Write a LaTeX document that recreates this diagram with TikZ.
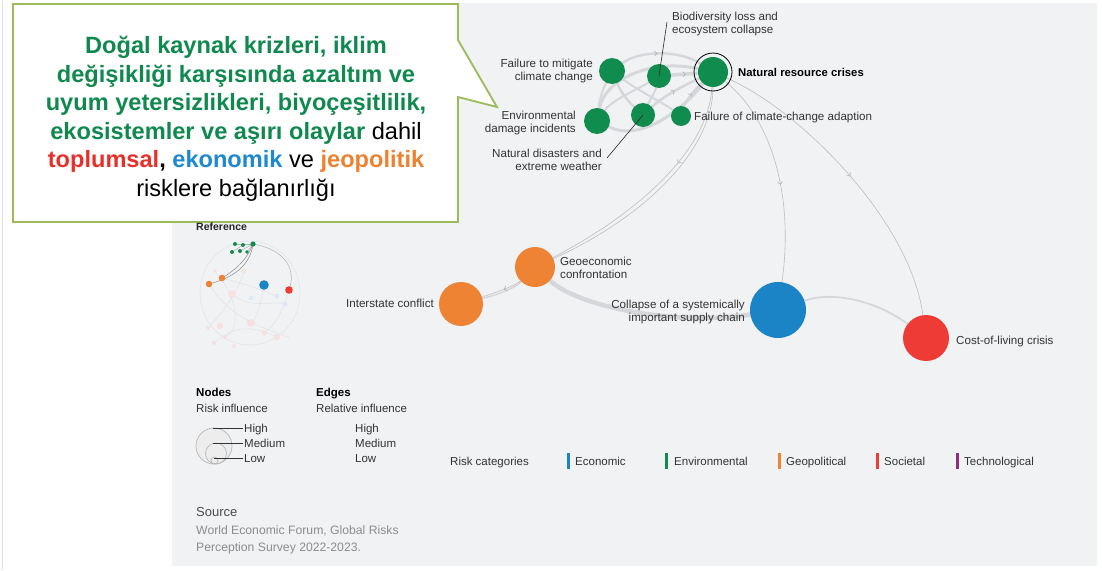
\documentclass[tikz,border=0pt]{standalone}
\usepackage{fontspec}
\setmainfont{Liberation Sans}
\usetikzlibrary{decorations.markings,arrows.meta}
\definecolor{panel}{RGB}{241,242,244}
\definecolor{envg}{RGB}{17,140,79}
\definecolor{geoo}{RGB}{237,131,51}
\definecolor{ecob}{RGB}{27,132,199}
\definecolor{socr}{RGB}{238,59,53}
\definecolor{techp}{RGB}{142,44,126}
\definecolor{calbord}{RGB}{155,187,89}
\definecolor{calgreen}{RGB}{16,137,79}
\definecolor{calred}{RGB}{232,48,42}
\definecolor{calblue}{RGB}{30,136,208}
\definecolor{calorange}{RGB}{238,129,48}
\definecolor{labelc}{RGB}{51,51,51}
\definecolor{thinc}{RGB}{190,190,193}
\definecolor{bandc}{RGB}{214,215,218}
\definecolor{arrc}{RGB}{175,175,178}
\definecolor{faintc}{RGB}{226,226,229}
\definecolor{pinkc}{RGB}{246,224,224}
\definecolor{lbluec}{RGB}{222,233,243}
\definecolor{srcgray}{RGB}{140,140,140}
\pgfdeclarelayer{bg}
\pgfdeclarelayer{edges}
\pgfsetlayers{bg,edges,main}
\tikzset{
  rnode/.style={circle, inner sep=0pt, draw=none},
  envn/.style={rnode, fill=envg},
  geon/.style={rnode, fill=geoo},
  econn/.style={rnode, fill=ecob},
  socn/.style={rnode, fill=socr},
  lbl/.style={font=\fontsize{11.6}{13}\selectfont, text=labelc, inner sep=0pt},
  lgd/.style={font=\fontsize{11.5}{13}\selectfont, text=labelc, inner sep=0pt, anchor=base west},
  thin/.style={draw=thinc, line width=0.6pt},
  band/.style={draw=bandc, line width=#1, line cap=round},
  band/.default=3pt,
  midarr/.style={postaction={decorate}, decoration={markings, mark=at position #1 with {\arrow[color=arrc, line width=0.6pt]{Straight Barb[length=2.5pt,width=5pt]}}}},
  faint/.style={draw=faintc, line width=0.5pt},
  cline/.style={font=\bfseries\fontsize{23.6}{28.5}\selectfont, text=calgreen, anchor=base, inner sep=0pt},
  leader/.style={draw=black!85, line width=0.6pt}
}
\begin{document}
\begin{tikzpicture}[x=1pt,y=-1pt]
\useasboundingbox (0,0) rectangle (1102,570);
\begin{pgfonlayer}{bg}
\fill[white] (0,0) rectangle (1102,570);
\fill[panel] (172,3) rectangle (1097,566);
\draw[faintc, line width=0.6pt] (2,0) -- (2,570);
\end{pgfonlayer}

% ---------- main nodes ----------
\node[envn, minimum size=26pt] (ftm) at (612,71) {};
\node[envn, minimum size=24pt] (bio) at (659,76) {};
\node[envn, minimum size=30pt] (nrc) at (713,72) {};
\node[circle, inner sep=0pt, draw=black, line width=0.8pt, minimum size=38pt] (ring) at (713,72) {};
\node[envn, minimum size=26pt] (env) at (597,121) {};
\node[envn, minimum size=24pt] (nd) at (643,115) {};
\node[envn, minimum size=20pt] (adp) at (681,116) {};
\node[geon, minimum size=40pt] (geo) at (535,267) {};
\node[geon, minimum size=44pt] (isc) at (461,304) {};
\node[econn, minimum size=56pt] (sup) at (778,310) {};
\node[socn, minimum size=46pt] (col) at (926,338) {};

% ---------- labels ----------
\node[lbl, anchor=west, align=left] (lbio) at (672,24) {Biodiversity loss and\\ecosystem collapse};
\node[lbl, anchor=east, align=right] (lftm) at (593,71) {Failure to mitigate\\climate change};
\node[lbl, anchor=west, font=\bfseries\fontsize{11.3}{13}\selectfont, text=black] (lnrc) at (738,72) {Natural resource crises};
\node[lbl, anchor=east, align=right] (lenv) at (576,123) {Environmental\\damage incidents};
\node[lbl, anchor=east, align=right] (lnd) at (602,160) {Natural disasters and\\extreme weather};
\node[lbl, anchor=west] (ladp) at (694,117) {Failure of climate-change adaption};
\node[lbl, anchor=west, align=left] (lgeo) at (560,268) {Geoeconomic\\confrontation};
\node[lbl, anchor=east] (lisc) at (434,303) {Interstate conflict};
\node[lbl, anchor=east, align=right] (lsup) at (745,312) {Collapse of a systemically\\important supply chain};
\node[lbl, anchor=west] (lcol) at (956,341) {Cost-of-living crisis};

\coordinate (biotip) at (667,22);
\coordinate (ndtip) at (607,158);
\draw[leader] (biotip) -- (bio.center);
\draw[leader] (ndtip) -- (nd.center);

% ---------- edges ----------
\begin{pgfonlayer}{edges}
% cluster bands
\draw[band=2.5pt, midarr=0.45] (ftm) .. controls (640,50) and (680,50) .. (nrc);
\draw[band=3pt] (env) .. controls (605,80) and (650,58) .. (nrc);
\draw[band=3pt] (env) .. controls (640,142) and (680,112) .. (nrc);
\draw[band=2.5pt, midarr=0.5] (nd) .. controls (665,95) and (685,85) .. (nrc);
\draw[band=2pt, midarr=0.5] (adp) .. controls (686,100) and (694,90) .. (nrc);
\draw[band=3.5pt, midarr=0.55] (bio) -- (nrc);
\draw[band=2.5pt] (ftm) .. controls (622,95) and (632,105) .. (nd);
\draw[band=2pt] (ftm) .. controls (640,92) and (662,102) .. (adp);
\draw[band=2pt] (env) .. controls (612,100) and (640,88) .. (bio);
\draw[band=2pt] (nd) .. controls (650,100) and (655,92) .. (bio);
\draw[band=2pt] (env) .. controls (600,95) and (605,85) .. (ftm);
% long edges
\draw[thin, midarr=0.35] (nrc) .. controls (708,150) and (640,212) .. (geo);
\draw[thin] (nrc) .. controls (713,150) and (645,217) .. (geo);
\draw[band=1.5pt] (geo) .. controls (515,288) and (500,294) .. (isc);
\draw[thin, midarr=0.45] (geo) .. controls (515,286) and (500,291) .. (isc);
\draw[band=4.5pt] (geo) .. controls (580,308) and (680,326) .. (sup);
\draw[band=1.8pt] (sup) .. controls (835,290) and (880,303) .. (col);
\draw[thin, midarr=0.55] (nrc) .. controls (768,115) and (795,190) .. (sup);
\draw[thin, midarr=0.5] (nrc) .. controls (800,110) and (910,220) .. (col);
\end{pgfonlayer}

% ---------- callout ----------
\draw[calbord, line width=1.8pt, fill=white, line join=miter] (13,4) -- (458,4) -- (458,40) -- (497,107) -- (458,97) -- (458,222) -- (13,222) -- cycle;
\node[cline] (cl1) at (236,53) {Doğal kaynak krizleri, iklim};
\node[cline] (cl2) at (236,82) {değişikliği karşısında azaltım ve};
\node[cline] (cl3) at (236,110.5) {uyum yetersizlikleri, biyoçeşitlilik,};
\node[cline] (cl4) at (236,139) {ekosistemler ve aşırı olaylar \textcolor{black}{\mdseries dahil}};
\node[cline] (cl5) at (236,167.5) {\textcolor{calred}{toplumsal}\textcolor{black}{,} \textcolor{calblue}{ekonomik} \textcolor{black}{\mdseries ve} \textcolor{calorange}{jeopolitik}};
\node[cline, text=black, font=\mdseries\fontsize{23.6}{28.5}\selectfont] (cl6) at (236,196) {risklere bağlanırlığı};

% ---------- reference mini graph ----------
\node[lbl, anchor=west, font=\bfseries\fontsize{10.5}{12}\selectfont, text=black!85] (refl) at (196,227) {Reference};
\draw[faint] (250,293) ellipse (50 and 52);
\draw[faint] (209,284) .. controls (230,320) and (270,330) .. (290,338);
\draw[faint] (232,294) .. controls (250,310) and (270,300) .. (285,304);
\draw[faint] (215,271) .. controls (240,300) and (240,330) .. (225,337);
\draw[faint] (264,285) .. controls (260,310) and (255,320) .. (251,323);
\draw[faint] (244,271) .. controls (235,300) and (215,320) .. (208,328);
\draw[faint] (289,290) .. controls (280,320) and (270,330) .. (264,333);
\draw[faint] (222,278) .. controls (250,285) and (260,290) .. (277,296);
\draw[faint] (214,343) .. controls (240,320) and (260,330) .. (277,337);
\draw[draw=black!45, line width=0.5pt] (253,244) .. controls (246,262) and (232,272) .. (222,278);
\draw[draw=black!45, line width=0.5pt] (253,244) .. controls (250,270) and (225,280) .. (209,284);
\draw[draw=black!30, line width=0.5pt] (253,244) .. controls (288,250) and (296,272) .. (289,290);
\draw[draw=black!30, line width=0.5pt] (235,244) -- (253,244);
\draw[draw=black!30, line width=0.5pt] (232,252) -- (243,245);
\draw[draw=black!30, line width=0.5pt] (240,251) -- (253,244);
\draw[draw=black!30, line width=0.5pt] (247,252) -- (253,244);
\foreach \px/\py/\pr in {232/294/4, 244/271/2.5, 215/271/1.8, 251/323/4, 220/326/3, 277/337/3, 264/333/2.5, 208/328/2, 214/343/2, 225/337/2, 234/346/2}
  \fill[pinkc] (\px,\py) circle (\pr);
\foreach \px/\py/\pr in {251/298/2.5, 277/296/2.5, 285/304/2.5}
  \fill[lbluec] (\px,\py) circle (\pr);
\foreach \px/\py/\pr in {235/244/2, 243/245/2, 253/244/2.6, 232/252/2, 240/251/2, 247/252/1.8}
  \fill[envg] (\px,\py) circle (\pr);
\fill[geoo] (209,284) circle (3.3);
\fill[geoo] (222,278) circle (3.3);
\fill[ecob] (264,285) circle (4.8);
\fill[socr] (289,290) circle (3.8);

% ---------- legend ----------
\node[lgd, font=\bfseries\fontsize{11.5}{13}\selectfont, text=black] (ndh) at (196,396) {Nodes};
\node[lgd] (ndri) at (196,412) {Risk influence};
\node[lgd, font=\bfseries\fontsize{11.5}{13}\selectfont, text=black] (edh) at (316,396) {Edges};
\node[lgd] (edri) at (316,412) {Relative influence};
\node[circle, inner sep=0pt, minimum size=36pt, draw=black!28, fill=black!7, line width=0.7pt] (lgbig) at (214,446) {};
\node[circle, inner sep=0pt, minimum size=21pt, draw=black!28, line width=0.7pt] (lgmed) at (216,453.5) {};
\node[circle, inner sep=0pt, minimum size=7pt, draw=black!28, line width=0.7pt] (lgsml) at (214.5,460.5) {};
\node[lgd] (lhigh) at (244,432) {High};
\node[lgd] (lmed) at (244,447) {Medium};
\node[lgd] (llow) at (244,462) {Low};
\coordinate (chigh) at (213,428);
\coordinate (cmed) at (213,443);
\coordinate (clow) at (214,458);
\coordinate (thigh) at (243,428);
\coordinate (tmed) at (243,443);
\coordinate (tlow) at (243,458);
\draw[black!80, line width=0.6pt] (chigh) -- (thigh);
\draw[black!80, line width=0.6pt] (cmed) -- (tmed);
\draw[black!80, line width=0.6pt] (clow) -- (tlow);
\node[lgd] (ehigh) at (355,432) {High};
\node[lgd] (emed) at (355,447) {Medium};
\node[lgd] (elow) at (355,462) {Low};

\node[lgd] (rcat) at (450,465) {Risk categories};
\fill[ecob] (567,453) rectangle (570,469);
\node[lgd] (cecon) at (575,465) {Economic};
\fill[envg] (665,453) rectangle (668,469);
\node[lgd] (cenv) at (674,465) {Environmental};
\fill[geoo] (778,453) rectangle (781,469);
\node[lgd] (cgeo) at (786,465) {Geopolitical};
\fill[socr] (876,453) rectangle (879,469);
\node[lgd] (csoc) at (884,465) {Societal};
\fill[techp] (956,453) rectangle (959,469);
\node[lgd] (ctech) at (964,465) {Technological};

\node[lgd, font=\fontsize{13}{15}\selectfont, text=black!70] (src) at (196,516) {Source};
\node[lgd, font=\fontsize{12.2}{17}\selectfont, text=srcgray, align=left, anchor=north west] (srct) at (196,525) {World Economic Forum, Global Risks\\Perception Survey 2022-2023.};
\end{tikzpicture}
\end{document}
